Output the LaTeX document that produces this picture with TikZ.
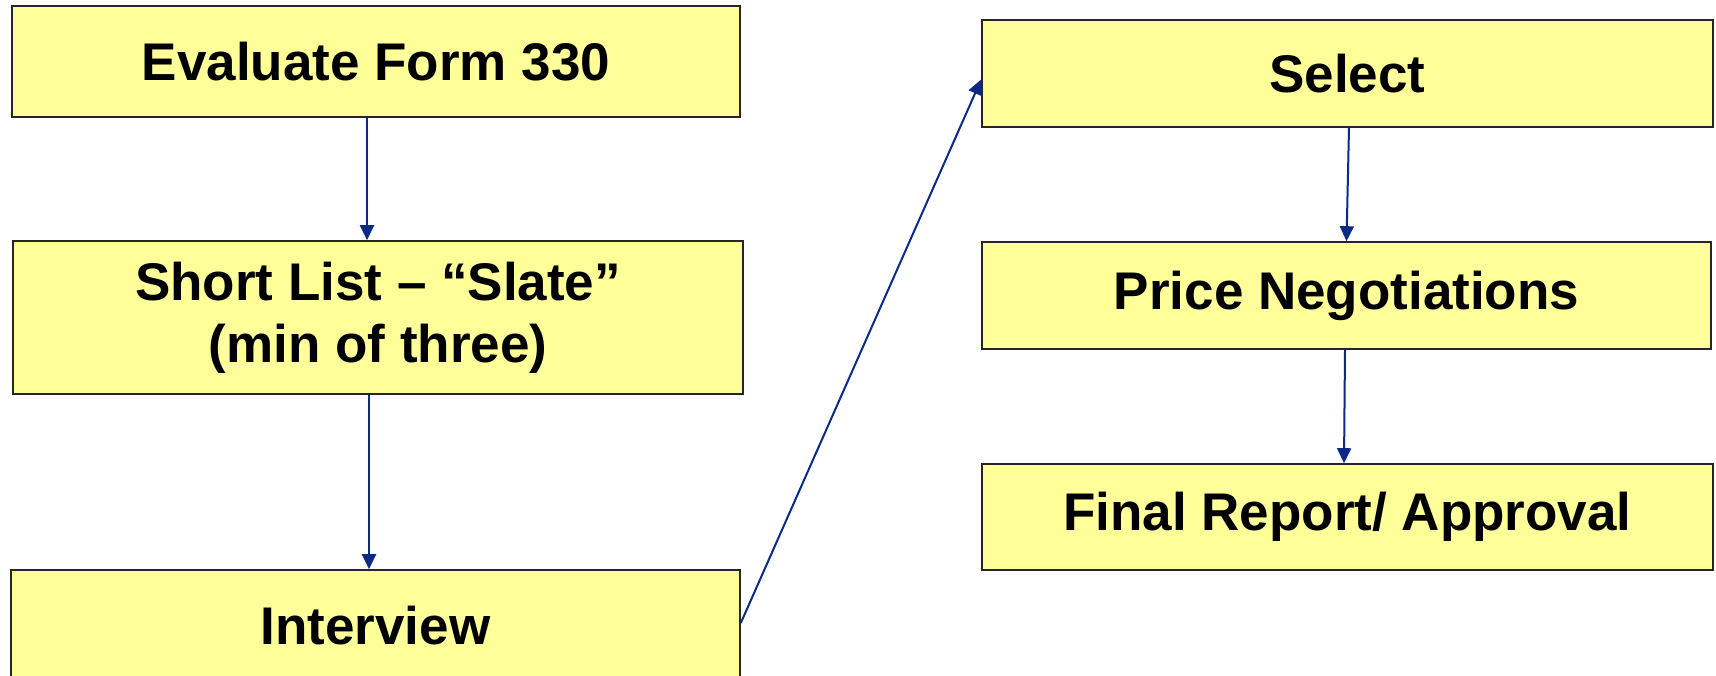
\documentclass[tikz,border=0pt]{standalone}
\usepackage{fontspec}
\setmainfont{Liberation Sans}
\usetikzlibrary{arrows.meta}
\definecolor{boxfill}{HTML}{FFFF99}
\definecolor{arrowblue}{HTML}{0B2A86}
\begin{document}
\begin{tikzpicture}[x=1pt,y=-1pt,
  stepbox/.style={draw=black!85,line width=1.6pt,fill=boxfill,inner sep=0pt,
    align=center,font=\fontsize{53}{62}\selectfont\bfseries},
  conn/.style={draw=arrowblue,line width=2pt,-{Triangle[length=15pt,width=14pt]}}]
\useasboundingbox (0,0) rectangle (1716,676);
\clip (0,0) rectangle (1716,676);
\fill[white] (0,0) rectangle (1716,676);
\node[stepbox,minimum width=728pt,minimum height=111pt] (ev) at (376,61.5) {Evaluate Form 330};
\node[stepbox,minimum width=730pt,minimum height=153pt] (sl) at (378,317.5) {Short List – “Slate”\\(min of three)};
\node[stepbox,minimum width=729pt,minimum height=112pt] (iv) at (375.5,626) {Interview};
\node[stepbox,minimum width=731pt,minimum height=107pt] (sel) at (1347.5,73.5) {Select};
\node[stepbox,minimum width=729pt,minimum height=107pt] (pn) at (1346.5,295.5) {Price Negotiations};
\node[stepbox,minimum width=731pt,minimum height=106pt] (fin) at (1347.5,517) {Final Report/ Approval};
\draw[conn] ([xshift=-9pt]ev.south) -- ([xshift=-11pt]sl.north);
\draw[conn] ([xshift=-9pt]sl.south) -- ([xshift=-6.5pt]iv.north);
\draw[conn] ([yshift=3pt]iv.east) -- ([yshift=-6pt]sel.west);
\draw[conn] ([xshift=1.5pt]sel.south) -- (pn.north);
\draw[conn] ([xshift=-1.5pt]pn.south) -- ([xshift=-3.5pt]fin.north);
\end{tikzpicture}
\end{document}
